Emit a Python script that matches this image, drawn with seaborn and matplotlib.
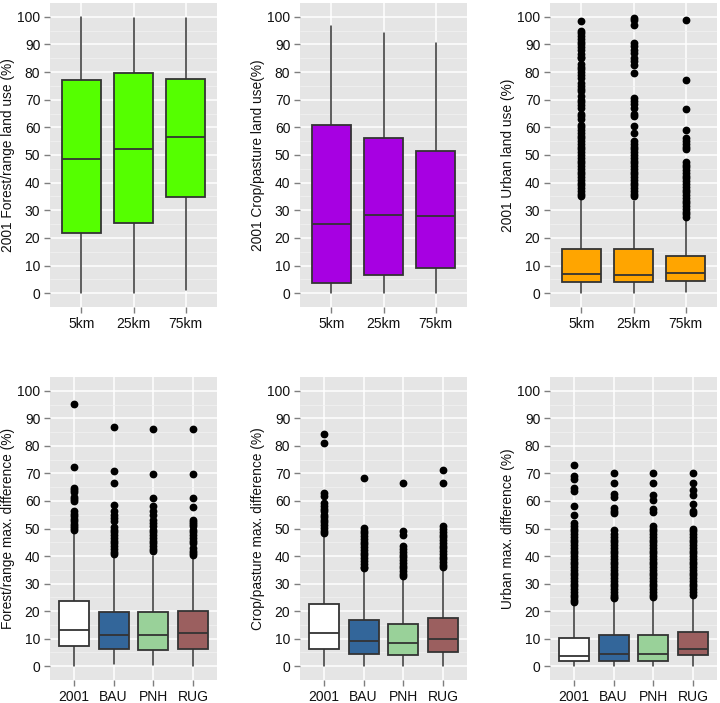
import matplotlib
matplotlib.use("Agg")
import matplotlib.pyplot as plt
import seaborn as sns

# x categories
dist_labels = ["5km", "25km", "75km"]
scen_labels = ["2001", "BAU", "PNH", "RUG"]

# box summaries per category: [lower whisker, q1, median, q3, upper whisker]
forest_use = [[0, 21.7, 48.4, 77.3, 100], [0, 25.5, 52.2, 79.5, 99.5], [1.2, 34.9, 56.4, 77.6, 99.5]]
crop_use = [[0, 3.7, 25.1, 60.7, 96.7], [0, 6.4, 28.4, 56.3, 94.0], [0, 9.2, 28.1, 51.6, 90.7]]
urban_use = [[0, 4.0, 7.0, 16.1, 34.7], [0, 4.0, 6.7, 16.0, 33.5], [0.4, 4.3, 7.2, 13.4, 26.3]]

forest_diff = [[0, 7.4, 13.2, 23.8, 48.0], [0.8, 6.1, 11.3, 19.6, 40.1],
               [0.5, 5.8, 11.3, 19.6, 40.1], [0, 6.4, 11.9, 20.0, 40.1]]
crop_diff = [[0, 6.1, 11.9, 22.6, 47.1], [0, 4.6, 9.2, 16.8, 35.2],
             [0, 4.0, 8.5, 15.3, 32.3], [0, 5.2, 9.8, 17.6, 35.8]]
urban_diff = [[0, 1.9, 3.6, 10.4, 22.8], [0, 1.9, 4.4, 11.3, 24.0],
              [0, 1.9, 4.4, 11.3, 24.5], [0, 4.0, 6.2, 12.5, 25.3]]

# outliers
urban_use_out = [
    [98.5, 94.8, 94, 93, 92, 91, 90, 89, 88, 86.5, 85.5, 85, 83, 82, 81, 80, 79, 78, 76, 75, 74, 73,
     71.5, 70, 69, 68, 67, 65, 64, 63, 61, 60, 59, 58, 57, 56, 55, 54, 53, 52, 51, 50, 49, 48, 47,
     46, 45, 44, 43, 42, 41, 40, 39, 38, 37, 36, 35],
    [99.6, 98.8, 97.2, 90.5, 89.5, 88, 87, 85, 84, 82.5, 79.5, 70.5, 69.5, 68.5, 67, 65, 64, 60.5,
     58, 55, 54, 53, 52, 51, 50, 49, 48, 47, 46, 45, 44, 43, 42, 41, 40, 39, 38, 37, 36, 35],
    [98.8, 77, 66.8, 59, 56, 55, 54, 53, 52, 47.5, 46.5, 45.5, 44.5, 43.5, 42.5, 41.5, 40.5, 39.5,
     38.5, 37.5, 36.5, 35.5, 34.5, 33.5, 32.5, 31.5, 30.5, 29.5, 28.5, 27.5],
]
forest_diff_out = [
    [95.1, 72.3, 64.8, 64.0, 63.2, 61.5, 60.6, 60.0, 56.3, 55.4, 54.6, 53.6, 52.6, 51.8, 51.0, 50.2, 49.4],
    [87.0, 70.8, 66.4, 58.4, 56.3, 55.0, 53.8, 52.6, 50.6, 49.6, 48.6, 47.6, 46.6, 45.6, 44.6, 43.6,
     42.6, 41.6, 40.8],
    [86.0, 69.7, 61.1, 58.1, 56.3, 55.0, 53.0, 52.0, 50.8, 49.6, 48.6, 47.6, 46.6, 45.6, 44.6, 43.6,
     42.6, 41.8],
    [86.0, 69.7, 61.1, 57.8, 53.2, 52.4, 51.6, 50.8, 49.6, 48.6, 47.6, 46.6, 45.6, 44.7, 42.9, 42.0,
     41.2, 40.5],
]
crop_diff_out = [
    [84.2, 80.9, 62.9, 61.7, 59.3, 58.2, 57.2, 56.2, 55.0, 54.2, 53.2, 52.2, 51.2, 50.2, 49.2, 48.4],
    [68.2, 50.2, 49.2, 48.2, 47.2, 46.2, 45.2, 44.2, 43.2, 42.2, 41.2, 40.2, 39.2, 38.2, 37.2, 36.2, 35.6],
    [66.6, 49.0, 47.8, 43.5, 42.5, 41.5, 40.5, 39.5, 38.5, 37.5, 36.5, 35.5, 34.5, 33.5, 32.8],
    [71.1, 66.6, 50.8, 49.8, 48.8, 47.8, 46.8, 45.8, 44.8, 43.8, 42.8, 41.8, 40.8, 39.8, 38.8, 37.8,
     36.8, 36.2],
]
urban_diff_out = [
    [73.0, 69.0, 67.8, 64.8, 63.5, 58.1, 55.0, 52, 51, 50, 49, 48, 47, 46, 45, 44, 43, 42, 41, 40,
     39, 38, 37, 36, 35, 34, 33, 32, 31, 30, 29, 28, 27, 26, 25, 24, 23.3],
    [70.3, 66.6, 62.5, 61.5, 57.5, 56.5, 55.6, 49.5, 48, 47, 46, 45, 44, 43, 42, 41, 40, 39, 38, 37,
     36, 35, 34, 33, 32, 31, 30, 29, 28, 27, 26, 25, 24.7],
    [70, 66.5, 62, 60.5, 57, 56, 51, 50, 49, 48, 47, 46, 45, 44, 43, 42, 41, 40, 39, 38, 37, 36, 35,
     34, 33, 32, 31, 30, 29, 28, 27, 26, 25.2],
    [70, 66.5, 64, 62, 59, 56.5, 55.5, 50, 49, 48, 47, 46, 45, 44, 43, 42, 41, 40, 39, 38, 37, 36, 35,
     34, 33, 32, 31, 30, 29, 28, 27, 26],
]

scen_colors = ["#FFFFFF", "#33669A", "#99D199", "#9B5F5F"]

sns.set_theme(style="darkgrid", rc={
    "axes.facecolor": "#E5E5E5",
    "grid.color": "white",
    "axes.edgecolor": "none",
})
plt.rcParams["font.family"] = ["Liberation Sans", "DejaVu Sans"]

fig = plt.figure(figsize=(7.2, 7.03), dpi=100)

lefts = [50 / 720, 300 / 720, 550 / 720]
top_row = [1 - 307 / 703, 304 / 703]
bot_row = [1 - 680 / 703, 303 / 703]
w = 167 / 720


def draw(ax, labels, stats, outs, colors, ylabel):
    bstats = []
    for lab, s, o in zip(labels, stats, outs):
        bstats.append(dict(label=lab, whislo=s[0], q1=s[1], med=s[2], q3=s[3], whishi=s[4], fliers=o))
    arts = ax.bxp(bstats, positions=range(1, len(labels) + 1), widths=0.75, patch_artist=True,
                  showcaps=False,
                  boxprops=dict(edgecolor="#333333", linewidth=1.3),
                  medianprops=dict(color="#333333", linewidth=1.3),
                  whiskerprops=dict(color="#333333", linewidth=1.1),
                  flierprops=dict(marker="o", markerfacecolor="black", markeredgecolor="black",
                                  markersize=4.6, linestyle="none"))
    for patch, c in zip(arts["boxes"], colors):
        patch.set_facecolor(c)
        patch.set_zorder(3)
    for key in ["medians", "whiskers", "fliers"]:
        for a in arts[key]:
            a.set_zorder(4 if key != "whiskers" else 2)
    ax.set_xlim(0.4, len(labels) + 0.6)
    ax.set_ylim(-5, 105)
    ax.set_yticks(range(0, 101, 10))
    ax.set_yticks(range(5, 100, 10), minor=True)
    ax.grid(which="major", color="white", linewidth=1.1)
    ax.grid(which="minor", axis="y", color="#F2F2F2", linewidth=0.5)
    ax.set_axisbelow(True)
    ax.tick_params(axis="both", which="major", length=4, width=1, color="#7F7F7F",
                   labelsize=10, labelcolor="#111111", pad=3, bottom=True, left=True)
    ax.tick_params(axis="y", which="minor", length=0)
    ax.set_xticklabels(labels)
    ax.set_ylabel(ylabel, fontsize=9.9, color="#111111", labelpad=1.5)
    for sp in ax.spines.values():
        sp.set_visible(False)


top_specs = [
    (forest_use, [[], [], []], "#55FF00", "2001 Forest/range land use (%)"),
    (crop_use, [[], [], []], "#A700E2", "2001 Crop/pasture land use(%)"),
    (urban_use, urban_use_out, "#FFA500", "2001 Urban land use (%)"),
]
for i, (st, outs, col, lab) in enumerate(top_specs):
    ax = fig.add_axes([lefts[i], top_row[0], w, top_row[1]])
    draw(ax, dist_labels, st, outs, [col] * 3, lab)

bot_specs = [
    (forest_diff, forest_diff_out, "Forest/range max. difference (%)"),
    (crop_diff, crop_diff_out, "Crop/pasture max. difference (%)"),
    (urban_diff, urban_diff_out, "Urban max. difference (%)"),
]
for i, (st, outs, lab) in enumerate(bot_specs):
    ax = fig.add_axes([lefts[i], bot_row[0], w, bot_row[1]])
    draw(ax, scen_labels, st, outs, scen_colors, lab)

fig.savefig("out.png", dpi=100, facecolor="white")
